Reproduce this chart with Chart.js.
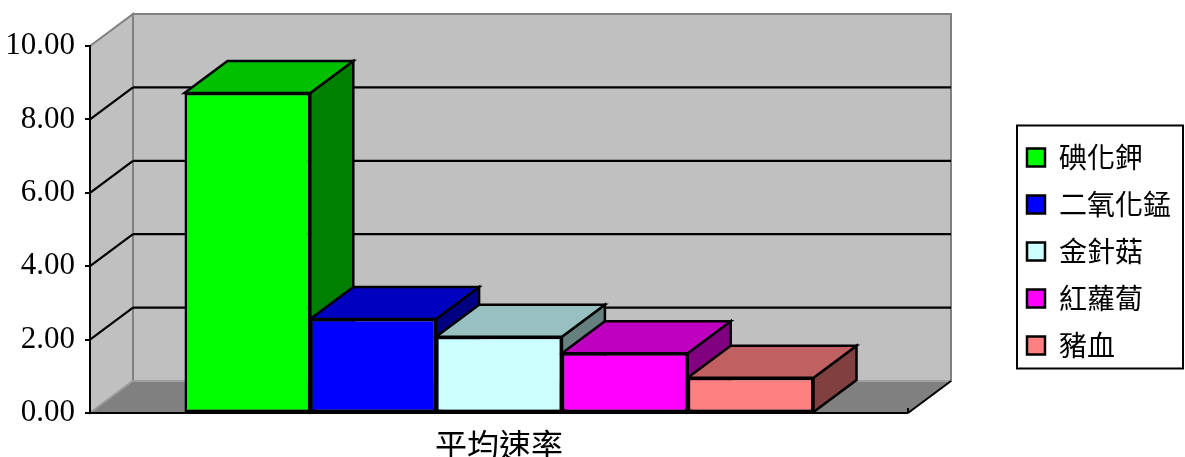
<!DOCTYPE html>
<html>
<head>
<meta charset="utf-8">
<script src="https://cdn.jsdelivr.net/npm/chart.js@4"></script>
<style>
    body { margin: 0; background: #fff; }
    #wrap { width: 1185px; height: 457px; position: relative; }
</style>
</head>
<body>
<div id="wrap"><canvas id="rate-chart"></canvas></div>
<script>
// Data
const categories = ['平均速率'];
const seriesNames = ['碘化鉀', '二氧化錳', '金針菇', '紅蘿蔔', '豬血'];
const seriesValues = [8.72, 2.56, 2.08, 1.63, 0.96];
const yTicks = { min: 0, max: 10, step: 2 };

// Face colours (front / top / side)
const frontColors = ['#00FF00', '#0000FF', '#CCFFFF', '#FF00FF', '#FF8080'];
const topColors = ['#00C000', '#0000C0', '#99C0C0', '#C000C0', '#C06060'];
const sideColors = ['#008000', '#000080', '#668080', '#800080', '#804040'];

// 3D depth offset of the walls and bars
const DEPTH_X = 43;
const DEPTH_Y = 32;

function poly(ctx, pts, fill, stroke, lw) {
    ctx.beginPath();
    ctx.moveTo(pts[0][0], pts[0][1]);
    for (let i = 1; i < pts.length; i++) ctx.lineTo(pts[i][0], pts[i][1]);
    ctx.closePath();
    if (fill) { ctx.fillStyle = fill; ctx.fill(); }
    if (stroke) { ctx.strokeStyle = stroke; ctx.lineWidth = lw || 2; ctx.stroke(); }
}

function line(ctx, x1, y1, x2, y2, color, lw) {
    ctx.beginPath();
    ctx.moveTo(x1, y1);
    ctx.lineTo(x2, y2);
    ctx.strokeStyle = color;
    ctx.lineWidth = lw || 2;
    ctx.stroke();
}

// Walls, floor and gridlines behind everything
const wallsPlugin = {
    id: 'walls',
    beforeDraw(chart) {
        const ctx = chart.ctx;
        const y = chart.scales.y;
        const x0 = chart.chartArea.left, x1 = chart.chartArea.right;
        const yb = y.getPixelForValue(yTicks.min), yt = y.getPixelForValue(yTicks.max);
        ctx.save();
        ctx.lineJoin = 'miter';
        // back wall
        poly(ctx, [[x0 + DEPTH_X, yt - DEPTH_Y], [x1 + DEPTH_X, yt - DEPTH_Y],
                   [x1 + DEPTH_X, yb - DEPTH_Y], [x0 + DEPTH_X, yb - DEPTH_Y]], '#C0C0C0', '#808080', 2);
        // left wall
        poly(ctx, [[x0, yt], [x0 + DEPTH_X, yt - DEPTH_Y], [x0 + DEPTH_X, yb - DEPTH_Y], [x0, yb]],
             '#C0C0C0', '#808080', 2);
        // floor
        poly(ctx, [[x0, yb], [x0 + DEPTH_X, yb - DEPTH_Y], [x1 + DEPTH_X, yb - DEPTH_Y], [x1, yb]],
             '#808080', null);
        line(ctx, x0 + DEPTH_X, yb - DEPTH_Y, x1 + DEPTH_X, yb - DEPTH_Y, '#A0A0A0', 2);
        line(ctx, x0, yb, x0 + DEPTH_X, yb - DEPTH_Y, '#A0A0A0', 1.5);
        line(ctx, x1, yb, x1 + DEPTH_X, yb - DEPTH_Y, '#000', 2);
        line(ctx, x1, yb, x1, yb - 5, '#000', 2);
        // gridlines on back and left walls
        y.ticks.forEach(t => {
            if (t.value <= yTicks.min || t.value >= yTicks.max) return;
            const py = y.getPixelForValue(t.value);
            line(ctx, x0 + DEPTH_X, py - DEPTH_Y, x1 + DEPTH_X, py - DEPTH_Y, '#000', 2.2);
            line(ctx, x0, py, x0 + DEPTH_X, py - DEPTH_Y, '#000', 2.2);
        });
        ctx.restore();
    }
};

// Top and side faces of each bar, left to right
const barFacesPlugin = {
    id: 'barFaces',
    beforeDatasetsDraw(chart) {
        const ctx = chart.ctx;
        ctx.save();
        ctx.lineJoin = 'miter';
        chart.data.datasets.forEach((ds, i) => {
            const meta = chart.getDatasetMeta(i);
            meta.data.forEach(el => {
                const l = el.x - el.width / 2, r = el.x + el.width / 2;
                const top = el.y, base = el.base;
                poly(ctx, [[r, top], [r + DEPTH_X, top - DEPTH_Y], [r + DEPTH_X, base - DEPTH_Y], [r, base]],
                     sideColors[i], '#000', 2.5);
                poly(ctx, [[l, top], [r, top], [r + DEPTH_X, top - DEPTH_Y], [l + DEPTH_X, top - DEPTH_Y]],
                     topColors[i], '#000', 2.5);
            });
        });
        ctx.restore();
    }
};

// Black frame round the legend
const legendBoxPlugin = {
    id: 'legendBox',
    afterDraw(chart) {
        const lg = chart.legend;
        const hb = lg.legendHitBoxes;
        if (!hb || !hb.length) return;
        const ctx = chart.ctx;
        const last = hb[hb.length - 1];
        const x1 = lg.left + 9, x2 = lg.right + 2;
        const y1 = hb[0].top - 18, y2 = last.top + last.height + 9;
        ctx.save();
        ctx.strokeStyle = '#000';
        ctx.lineWidth = 2;
        ctx.strokeRect(x1, y1, x2 - x1, y2 - y1);
        ctx.restore();
    }
};

const datasets = seriesNames.map((name, i) => ({
    label: name,
    data: [seriesValues[i]],
    backgroundColor: frontColors[i],
    borderColor: '#000',
    borderWidth: 2.5,
    borderSkipped: false,
    barPercentage: 1.0,
    categoryPercentage: 0.769
}));

const ctx = document.getElementById('rate-chart').getContext('2d');
const rateChart = new Chart(ctx, {
    type: 'bar',
    data: { labels: categories, datasets: datasets },
    options: {
        responsive: true,
        maintainAspectRatio: false,
        animation: false,
        layout: { padding: { top: 46, left: 0, right: 4, bottom: 0 } },
        scales: {
            x: {
                grid: { display: true, drawOnChartArea: false, drawTicks: false },
                border: { display: true, color: '#000', width: 2 },
                ticks: {
                    color: '#000',
                    padding: 13,
                    font: { family: '"Noto Sans CJK TC"', size: 32 }
                },
                afterFit(scale) { scale.height = 44; }
            },
            y: {
                min: yTicks.min,
                max: yTicks.max,
                ticks: {
                    stepSize: yTicks.step,
                    color: '#000',
                    padding: 10,
                    font: { family: '"Liberation Serif"', size: 31 },
                    callback: v => v.toFixed(2)
                },
                grid: { drawOnChartArea: false, drawTicks: true, tickLength: 5, color: '#000', lineWidth: 2 },
                border: { display: true, color: '#000', width: 2 },
                afterFit(scale) { scale.width = 90; }
            },
            // empty axis that leaves room for the 3D depth before the legend
            gap: {
                type: 'linear',
                position: 'right',
                display: true,
                grid: { display: false },
                border: { display: false },
                ticks: { display: false },
                afterFit(scale) { scale.width = 100; }
            }
        },
        plugins: {
            legend: {
                position: 'right',
                align: 'center',
                labels: {
                    boxWidth: 18,
                    boxHeight: 18,
                    padding: 19,
                    color: '#000',
                    font: { family: '"Noto Sans CJK TC"', size: 28 }
                }
            },
            tooltip: { enabled: false }
        }
    },
    plugins: [wallsPlugin, barFacesPlugin, legendBoxPlugin]
});
</script>
</body>
</html>
